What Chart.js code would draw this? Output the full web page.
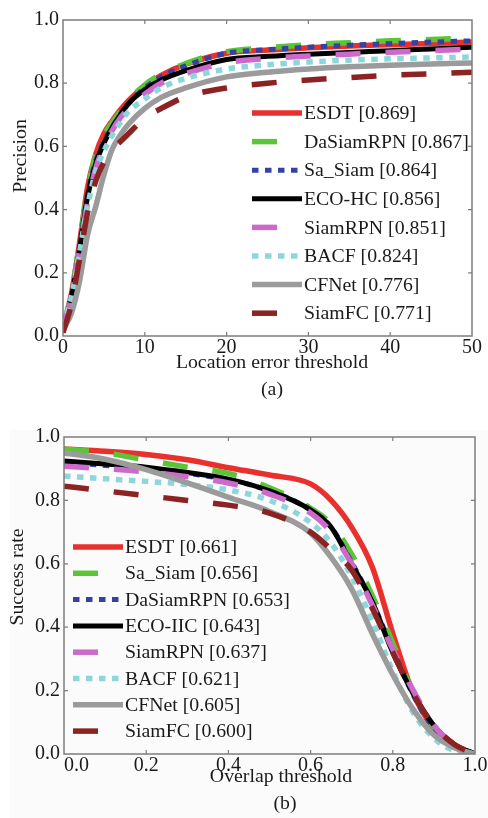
<!DOCTYPE html>
<html>
<head>
<meta charset="utf-8">
<script src="https://cdn.jsdelivr.net/npm/chart.js@4.4.1/dist/chart.umd.min.js"></script>
<style>
  html, body { margin: 0; padding: 0; background: #fff; }
  body { width: 488px; height: 818px; position: relative; overflow: hidden; }
  #panelB { position: absolute; left: 10px; top: 430px; width: 478px; height: 388px; background: #fcfbfc; }
  #boxA { position: absolute; left: 0; top: 0; width: 488px; height: 400px; }
  #boxB { position: absolute; left: 0; top: 410px; width: 488px; height: 408px; }
</style>
</head>
<body>
<div id="panelB"></div>
<div id="boxA"><canvas id="precisionChart"></canvas></div>
<div id="boxB"><canvas id="successChart"></canvas></div>
<script>
// --- data (a): precision vs location error threshold ---
const locThresh = [0, 1, 2, 3, 4, 5, 6, 7, 8, 10, 12, 15, 20, 25, 30, 35, 40, 45, 50];
const precESDT      = [0.03, 0.13, 0.29, 0.47, 0.575, 0.64, 0.68, 0.715, 0.745, 0.79, 0.825, 0.86, 0.895, 0.905, 0.912, 0.918, 0.922, 0.926, 0.93];
const precDaSiamRPN = [0.03, 0.13, 0.29, 0.46, 0.57, 0.635, 0.675, 0.71, 0.745, 0.795, 0.828, 0.862, 0.9, 0.912, 0.922, 0.928, 0.934, 0.938, 0.943];
const precSaSiam    = [0.03, 0.12, 0.28, 0.45, 0.555, 0.615, 0.66, 0.7, 0.735, 0.785, 0.82, 0.855, 0.895, 0.906, 0.914, 0.92, 0.925, 0.93, 0.934];
const precECOHC     = [0.03, 0.12, 0.27, 0.44, 0.545, 0.61, 0.66, 0.7, 0.735, 0.78, 0.81, 0.84, 0.875, 0.885, 0.892, 0.897, 0.903, 0.908, 0.914];
const precSiamRPN   = [0.03, 0.12, 0.27, 0.42, 0.53, 0.6, 0.65, 0.69, 0.72, 0.765, 0.8, 0.83, 0.865, 0.878, 0.886, 0.892, 0.898, 0.903, 0.908];
const precBACF      = [0.03, 0.12, 0.26, 0.41, 0.52, 0.585, 0.635, 0.675, 0.71, 0.75, 0.785, 0.815, 0.845, 0.858, 0.867, 0.873, 0.877, 0.88, 0.883];
const precCFNet     = [0.02, 0.07, 0.17, 0.32, 0.41, 0.51, 0.59, 0.635, 0.67, 0.72, 0.755, 0.785, 0.82, 0.835, 0.845, 0.852, 0.857, 0.861, 0.864];
const precSiamFC    = [0.01, 0.1, 0.24, 0.39, 0.49, 0.55, 0.59, 0.615, 0.64, 0.69, 0.72, 0.757, 0.785, 0.8, 0.81, 0.818, 0.825, 0.83, 0.835];
const precLabels = ['ESDT [0.869]', 'DaSiamRPN [0.867]', 'Sa_Siam [0.864]', 'ECO-HC [0.856]',
                    'SiamRPN [0.851]', 'BACF [0.824]', 'CFNet [0.776]', 'SiamFC [0.771]'];

// --- data (b): success rate vs overlap threshold ---
const overlapThresh = [0, 0.1, 0.2, 0.3, 0.4, 0.5, 0.6, 0.65, 0.7, 0.75, 0.8, 0.85, 0.9, 0.95, 1.0];
const succESDT      = [0.962, 0.955, 0.945, 0.928, 0.903, 0.88, 0.852, 0.8, 0.715, 0.59, 0.38, 0.19, 0.08, 0.025, 0.0];
const succSaSiam    = [0.962, 0.95, 0.927, 0.905, 0.885, 0.84, 0.775, 0.725, 0.63, 0.5, 0.35, 0.19, 0.085, 0.025, 0.0];
const succDaSiamRPN = [0.92, 0.91, 0.9, 0.885, 0.865, 0.83, 0.77, 0.715, 0.605, 0.48, 0.33, 0.185, 0.08, 0.025, 0.0];
const succECOHC     = [0.924, 0.915, 0.905, 0.888, 0.867, 0.83, 0.77, 0.715, 0.6, 0.48, 0.32, 0.19, 0.09, 0.03, 0.0];
const succSiamRPN   = [0.908, 0.9, 0.89, 0.875, 0.855, 0.82, 0.76, 0.7, 0.6, 0.47, 0.33, 0.2, 0.09, 0.03, 0.0];
const succBACF      = [0.877, 0.868, 0.86, 0.85, 0.833, 0.8, 0.73, 0.665, 0.56, 0.42, 0.26, 0.13, 0.05, 0.01, 0.0];
const succCFNet     = [0.95, 0.93, 0.897, 0.855, 0.81, 0.765, 0.697, 0.62, 0.52, 0.38, 0.25, 0.14, 0.06, 0.02, 0.0];
const succSiamFC    = [0.845, 0.83, 0.815, 0.8, 0.785, 0.76, 0.7, 0.645, 0.58, 0.46, 0.32, 0.19, 0.09, 0.03, 0.0];
const succLabels = ['ESDT [0.661]', 'Sa_Siam [0.656]', 'DaSiamRPN [0.653]', 'ECO-IIC [0.643]',
                    'SiamRPN [0.637]', 'BACF [0.621]', 'CFNet [0.605]', 'SiamFC [0.600]'];

const yTickLabels = ['0.0', '0.2', '0.4', '0.6', '0.8', '1.0'];

const FONT = "'Liberation Serif', 'Times New Roman', serif";
const TXT = '#1a1a1a';

// line styles in legend order of each figure
const styleRed     = { borderColor: '#e8312c', borderWidth: 5.5, borderDash: [] };
const styleGreen   = { borderColor: '#5cc537', borderWidth: 5.5, borderDash: [25, 25] };
const styleBlue    = { borderColor: '#3442a6', borderWidth: 5, borderDash: [6.5, 6.5] };
const styleBlack   = { borderColor: '#000000', borderWidth: 5, borderDash: [] };
const styleMagenta = { borderColor: '#cc6acb', borderWidth: 5.5, borderDash: [25, 25] };
const styleCyan    = { borderColor: '#8dd7dc', borderWidth: 5.5, borderDash: [6.5, 6.5] };
const styleGray    = { borderColor: '#9b9b9b', borderWidth: 5.5, borderDash: [] };
const styleDarkRed = { borderColor: '#8c2323', borderWidth: 5.5, borderDash: [25, 25] };

function makeDatasets(xs, series, labels, styles) {
    const n = series.length;
    return series.map((ys, i) => ({
        label: labels[i],
        data: xs.map((x, k) => ({ x: x, y: ys[k] })),
        borderColor: styles[i].borderColor,
        borderWidth: styles[i].borderWidth,
        borderDash: styles[i].borderDash,
        borderCapStyle: 'butt',
        pointRadius: 0,
        fill: false,
        cubicInterpolationMode: 'monotone',
        order: n - 1 - i   // later series drawn on top, like the original
    }));
}

// box, inner ticks, in-plot legend and titles
const figureDecor = {
    id: 'figureDecor',
    afterDatasetsDraw(chart, args, o) {
        const ctx = chart.ctx;
        const a = chart.chartArea;
        const sx = chart.scales.x, sy = chart.scales.y;
        ctx.save();
        ctx.strokeStyle = '#7d7d7d';
        ctx.lineWidth = 1.5;
        ctx.strokeRect(a.left, a.top, a.right - a.left, a.bottom - a.top);
        ctx.lineWidth = 1.2;
        ctx.beginPath();
        sx.ticks.forEach(t => {
            const px = sx.getPixelForValue(t.value);
            if (px <= a.left + 1 || px >= a.right - 1) return;
            ctx.moveTo(px, a.bottom); ctx.lineTo(px, a.bottom - 4);
            ctx.moveTo(px, a.top); ctx.lineTo(px, a.top + 4);
        });
        sy.ticks.forEach(t => {
            const py = sy.getPixelForValue(t.value);
            if (py <= a.top + 1 || py >= a.bottom - 1) return;
            ctx.moveTo(a.left, py); ctx.lineTo(a.left + 4, py);
            ctx.moveTo(a.right, py); ctx.lineTo(a.right - 4, py);
        });
        ctx.stroke();
        ctx.restore();
    },
    afterDraw(chart, args, o) {
        const ctx = chart.ctx;
        ctx.save();
        // legend inside the axes
        ctx.font = o.legendFont;
        ctx.textBaseline = 'middle';
        ctx.textAlign = 'left';
        chart.data.datasets.forEach((ds, i) => {
            const y = o.legendY + i * o.legendStep;
            ctx.save();
            ctx.strokeStyle = ds.borderColor;
            ctx.lineWidth = ds.borderWidth;
            ctx.lineCap = 'butt';
            ctx.setLineDash(ds.borderDash || []);
            ctx.beginPath();
            ctx.moveTo(o.legendX, y);
            ctx.lineTo(o.legendX + o.sampleLen, y);
            ctx.stroke();
            ctx.restore();
            ctx.fillStyle = TXT;
            ctx.fillText(ds.label, o.legendX + o.sampleLen + 2, y + 1);
        });
        // axis titles and caption
        ctx.fillStyle = TXT;
        ctx.font = o.titleFont;
        ctx.textAlign = 'center';
        ctx.textBaseline = 'middle';
        ctx.fillText(o.xTitle, o.xTitleX, o.xTitleY);
        ctx.fillText(o.caption, o.captionX, o.captionY);
        ctx.translate(o.yTitleX, o.yTitleY);
        ctx.rotate(-Math.PI / 2);
        ctx.fillText(o.yTitle, 0, 0);
        ctx.restore();
    }
};

function baseOptions(cfg) {
    return {
        responsive: true,
        maintainAspectRatio: false,
        animation: false,
        events: [],
        layout: { padding: { top: cfg.padTop, right: cfg.padRight, left: 0, bottom: 0 } },
        plugins: {
            legend: { display: false },
            tooltip: { enabled: false },
            figureDecor: cfg.decor
        },
        scales: {
            x: {
                type: 'linear',
                min: cfg.xMin, max: cfg.xMax,
                grid: { display: false, drawTicks: false },
                border: { display: false },
                afterFit: s => { s.height = 64; },
                afterBuildTicks: s => { s.ticks = cfg.xTicks.map(v => ({ value: v })); },
                ticks: {
                    padding: cfg.xTickPad,
                    maxRotation: 0,
                    autoSkip: false,
                    color: TXT,
                    font: { family: FONT, size: 20 },
                    callback: cfg.xTickFmt
                }
            },
            y: {
                min: 0, max: 1,
                grid: { display: false, drawTicks: false },
                border: { display: false },
                afterFit: s => { s.width = cfg.yWidth; },
                ticks: {
                    stepSize: 0.2,
                    padding: 4,
                    color: TXT,
                    font: { family: FONT, size: 20 },
                    callback: (v, i) => yTickLabels[i]
                }
            }
        }
    };
}

function drawCharts() {
    // chart (a)
    new Chart(document.getElementById('precisionChart'), {
        type: 'line',
        data: {
            datasets: makeDatasets(locThresh,
                [precESDT, precDaSiamRPN, precSaSiam, precECOHC, precSiamRPN, precBACF, precCFNet, precSiamFC],
                precLabels,
                [styleRed, styleGreen, styleBlue, styleBlack, styleMagenta, styleCyan, styleGray, styleDarkRed])
        },
        options: baseOptions({
            padTop: 20, padRight: 16, yWidth: 63,
            xMin: 0, xMax: 50, xTicks: [0, 10, 20, 30, 40, 50], xTickPad: 0,
            xTickFmt: v => String(v),
            decor: {
                legendX: 252, legendY: 113, legendStep: 28.6, sampleLen: 50,
                legendFont: "19.8px " + FONT, titleFont: "19.8px " + FONT,
                xTitle: 'Location error threshold', xTitleX: 272, xTitleY: 363,
                caption: '(a)', captionX: 272, captionY: 390,
                yTitle: 'Precision', yTitleX: 21, yTitleY: 156
            }
        }),
        plugins: [figureDecor]
    });

    // chart (b)
    new Chart(document.getElementById('successChart'), {
        type: 'line',
        data: {
            datasets: makeDatasets(overlapThresh,
                [succESDT, succSaSiam, succDaSiamRPN, succECOHC, succSiamRPN, succBACF, succCFNet, succSiamFC],
                succLabels,
                [styleRed, styleGreen, styleBlue, styleBlack, styleMagenta, styleCyan, styleGray, styleDarkRed])
        },
        options: baseOptions({
            padTop: 27, padRight: 13, yWidth: 64,
            xMin: 0, xMax: 1, xTicks: [0, 0.2, 0.4, 0.6, 0.8, 1.0], xTickPad: 0,
            xTickFmt: v => (v === 0 ? '     0.0' : v.toFixed(1)),
            decor: {
                legendX: 73, legendY: 137, legendStep: 26.3, sampleLen: 50,
                legendFont: "19.8px " + FONT, titleFont: "19.8px " + FONT,
                xTitle: 'Overlap threshold', xTitleX: 281, xTitleY: 367,
                caption: '(b)', captionX: 285, captionY: 394,
                yTitle: 'Success rate', yTitleX: 18, yTitleY: 167
            }
        }),
        plugins: [figureDecor]
    });
}

// make sure the serif face is ready before the canvas text is drawn
if (document.fonts && document.fonts.load) {
    document.fonts.load("20px 'Liberation Serif'").then(drawCharts, drawCharts);
} else {
    drawCharts();
}
</script>
</body>
</html>
